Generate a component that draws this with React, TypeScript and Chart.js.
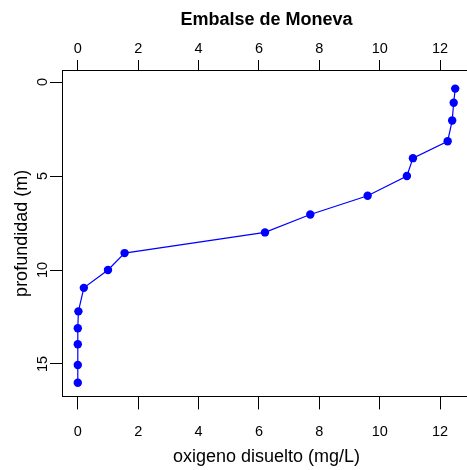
import React, { useEffect, useRef } from "react";
import { Chart, registerables } from "chart.js";

Chart.register(...registerables);

// Data
const depth = [0.35, 1.1, 2.05, 3.15, 4.05, 5.0, 6.05, 7.05, 8.0, 9.1, 10.0, 10.95, 12.2, 13.1, 13.95, 15.05, 16.0];
const oxygen = [12.5, 12.45, 12.4, 12.25, 11.1, 10.9, 9.6, 7.7, 6.2, 1.55, 1.0, 0.2, 0.02, 0.0, 0.0, 0.0, 0.0];
const xTicks = [0, 2, 4, 6, 8, 10, 12];
const yTicks = [0, 5, 10, 15];
const titleText = "Embalse de Moneva";
const xTitle = "oxigeno disuelto (mg/L)";
const yTitle = "profundidad (m)";

const FONT = '"Liberation Sans", Arial, Helvetica, sans-serif';
const CANVAS_W = 480;
const CANVAS_H = 470;

export default function App() {
  const ref = useRef<HTMLCanvasElement>(null);

  useEffect(() => {
    const canvas = ref.current;
    if (!canvas) return;

    const textPlugin = {
      id: "rText",
      afterDraw(chart: any) {
        const { ctx, chartArea } = chart;
        const ys = chart.scales.y;
        const cx = (chartArea.left + chartArea.right) / 2;
        const cy = (chartArea.top + chartArea.bottom) / 2;
        ctx.save();
        ctx.fillStyle = "#000";
        ctx.textAlign = "center";
        ctx.textBaseline = "alphabetic";
        ctx.font = `bold 18px ${FONT}`;
        ctx.fillText(titleText, cx, 25);
        ctx.font = `18px ${FONT}`;
        ctx.fillText(xTitle, cx, 462);
        ctx.save();
        ctx.translate(26.7, cy);
        ctx.rotate(-Math.PI / 2);
        ctx.fillText(yTitle, 0, 0);
        ctx.restore();
        ctx.font = `14.5px ${FONT}`;
        for (const v of yTicks) {
          ctx.save();
          ctx.translate(46.5, ys.getPixelForValue(v));
          ctx.rotate(-Math.PI / 2);
          ctx.fillText(String(v), 0, 0);
          ctx.restore();
        }
        ctx.restore();
      },
    };

    const xAxisCommon = (tickLen: number, pad: number, h: number, pos: string) => ({
      type: "linear",
      position: pos,
      min: -0.5,
      max: 13,
      afterBuildTicks: (s: any) => {
        s.ticks = xTicks.map((v) => ({ value: v }));
      },
      afterFit: (s: any) => {
        s.height = h;
      },
      grid: {
        drawOnChartArea: false,
        drawTicks: true,
        tickLength: tickLen,
        color: "#000",
        lineWidth: 1,
      },
      border: { display: true, color: "#000", width: 1 },
      ticks: {
        color: "#000",
        font: { size: 14.5, family: FONT },
        padding: pad,
        maxRotation: 0,
        minRotation: 0,
        autoSkip: false,
      },
    });

    const chart = new Chart(canvas, {
      type: "scatter",
      data: {
        datasets: [
          {
            data: depth.map((d, i) => ({ x: oxygen[i], y: d })),
            showLine: true,
            borderColor: "#0000ff",
            backgroundColor: "#0000ff",
            borderWidth: 1.2,
            pointRadius: 4.2,
            pointBorderWidth: 0,
            pointHoverRadius: 4.2,
          },
        ],
      },
      options: {
        responsive: false,
        animation: false,
        devicePixelRatio: 1,
        layout: { padding: { left: 0, top: 0, right: CANVAS_W - 470.3, bottom: 0 } },
        plugins: { legend: { display: false }, tooltip: { enabled: false }, title: { display: false } },
        scales: {
          x: xAxisCommon(12.7, 14, CANVAS_H - 396.7, "bottom") as any,
          x2: xAxisCommon(10, 2, 70, "top") as any,
          y: {
            type: "linear",
            position: "left",
            reverse: true,
            min: -0.64,
            max: 16.74,
            afterBuildTicks: (s: any) => {
              s.ticks = yTicks.map((v) => ({ value: v }));
            },
            afterFit: (s: any) => {
              s.width = 62.7;
            },
            grid: {
              drawOnChartArea: false,
              drawTicks: true,
              tickLength: 12.7,
              color: "#000",
              lineWidth: 1,
            },
            border: { display: true, color: "#000", width: 1 },
            ticks: { display: false },
          },
        },
      },
      plugins: [textPlugin],
    } as any);

    return () => chart.destroy();
  }, []);

  return (
    <div
      style={{
        position: "fixed",
        left: 0,
        top: 0,
        width: 467,
        height: 470,
        overflow: "hidden",
        background: "#fff",
      }}
    >
      <canvas
        ref={ref}
        width={CANVAS_W}
        height={CANVAS_H}
        style={{ display: "block", width: CANVAS_W, height: CANVAS_H }}
      />
    </div>
  );
}
